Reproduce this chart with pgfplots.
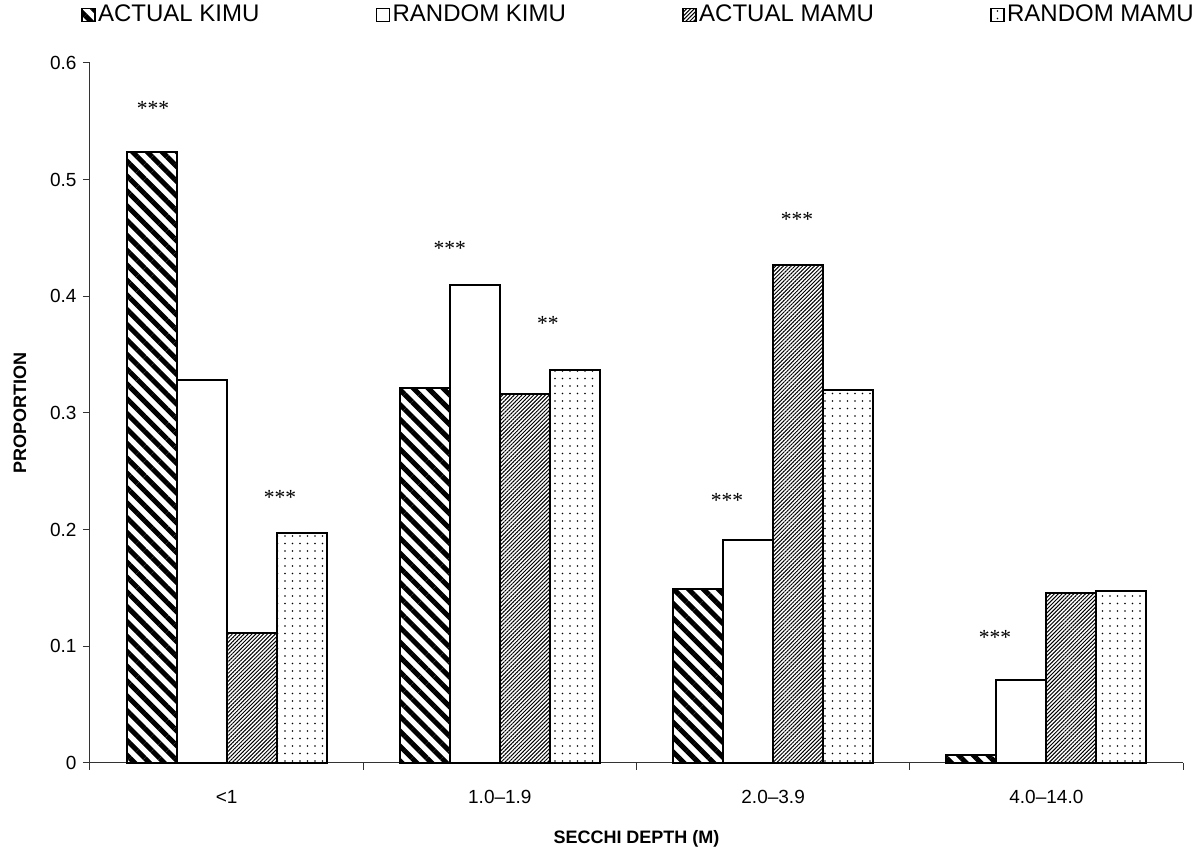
\documentclass[border=0pt]{standalone}
\usepackage{pgfplots}
\pgfplotsset{compat=1.18}
\usepackage{fontspec}
\setmainfont{Liberation Sans}
\newfontfamily\starfont{Liberation Serif}
\usetikzlibrary{patterns.meta}
\begin{document}
\begin{tikzpicture}
\begin{axis}[
  scale only axis,
  width=437.2pt, height=280pt,
  ybar=0pt, bar width=0.183,
  xmin=-0.5, xmax=3.5,
  ymin=0, ymax=0.6,
  axis x line*=bottom, axis y line*=left,
  axis line style={line width=0.4pt, black!80},
  xtick={0,1,2,3},
  xticklabels={{<1},{1.0--1.9},{2.0--3.9},{4.0--14.0}},
  major x tick style={draw=none},
  minor xtick={-0.5,0.5,1.5,2.5,3.5},
  minor tick length=2.8pt,
  major tick length=2.8pt,
  tick align=outside,
  tick style={line width=0.4pt, black!80},
  ytick={0,0.1,0.2,0.3,0.4,0.5,0.6},
  /pgf/number format/assume math mode=true,
  /pgf/number format/fixed,
  ticklabel style={font=\fontsize{7.6}{9}\selectfont},
  xticklabel style={yshift=-4.5pt},
  yticklabel style={xshift=0.9pt},
  xlabel={\textbf{SECCHI DEPTH (M)}},
  ylabel={\textbf{PROPORTION}},
  label style={font=\fontsize{7.2}{8}\selectfont},
  xlabel style={at={(axis description cs:0.5,0)}, anchor=center, yshift=-30.2pt},
  ylabel style={at={(axis description cs:0,0.5)}, anchor=center, yshift=28pt},
  clip=false,
  legend columns=4,
  legend style={draw=none, fill=none, font=\fontsize{9.6}{11}\selectfont,
    at={(axis description cs:0.502,1.0686)}, anchor=center,
    inner sep=0pt,
    /tikz/every even column/.append style={column sep=45.5pt},
    nodes={inner xsep=1pt, inner ysep=0pt}},
  legend image code/.code={\draw[#1,line width=0.6pt] (0pt,-2.6pt) rectangle (5.2pt,2.6pt);},
  every axis plot/.append style={draw=black, line width=0.8pt},
]
\addplot[pattern={Lines[angle=-45,distance=4.2pt,line width=2pt]}] coordinates {(0,0.524) (1,0.321) (2,0.149) (3,0.007)};
\addplot[fill=white] coordinates {(0,0.328) (1,0.410) (2,0.191) (3,0.071)};
\addplot[pattern={Lines[angle=45,distance=1.1pt,line width=0.4pt]}] coordinates {(0,0.111) (1,0.316) (2,0.427) (3,0.146)};
\addplot[pattern={Dots[distance=3pt,radius=0.35pt]}] coordinates {(0,0.197) (1,0.337) (2,0.320) (3,0.147)};
\legend{ACTUAL KIMU,RANDOM KIMU,ACTUAL MAMU,RANDOM MAMU}
\begin{scope}[every node/.style={font=\starfont\fontsize{8.6}{9}\selectfont}]
\node at (axis cs:-0.269,0.561) {***};
\node at (axis cs:0.195,0.228) {***};
\node at (axis cs:0.817,0.441) {***};
\node at (axis cs:1.176,0.377) {**};
\node at (axis cs:1.831,0.225) {***};
\node at (axis cs:2.087,0.466) {***};
\node at (axis cs:2.812,0.108) {***};
\end{scope}
\coordinate (bl) at (rel axis cs:0,0);
\coordinate (tr) at (rel axis cs:1,1);
\end{axis}
\pgfresetboundingbox
\path ([shift={(-36pt,-35.2pt)}]bl) rectangle ([shift={(8pt,25.2pt)}]tr);
\end{tikzpicture}
\end{document}
